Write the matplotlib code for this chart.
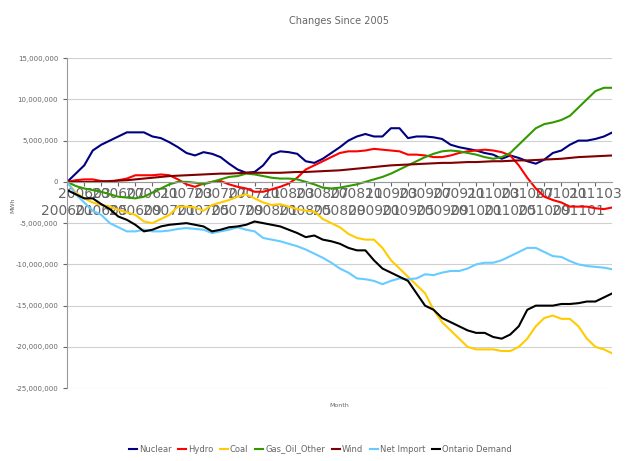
import matplotlib.pyplot as plt
from matplotlib.ticker import FuncFormatter

months = [f"{y}{m:02d}" for y in range(2006, 2012) for m in range(1, 13)][:65]

nuclear = [0, 1, 2, 3.8, 4.5, 5, 5.5, 6, 6, 6, 5.5, 5.3, 4.8, 4.2, 3.5, 3.2, 3.6, 3.4, 3, 2.2,
           1.5, 1.1, 1.2, 2, 3.3, 3.7, 3.6, 3.4, 2.5, 2.3, 2.8, 3.5, 4.2, 5, 5.5, 5.8, 5.5, 5.5,
           6.5, 6.5, 5.3, 5.5, 5.5, 5.4, 5.2, 4.5, 4.2, 4, 3.8, 3.5, 3.3, 2.8, 3.2, 2.9, 2.5, 2.2,
           2.7, 3.5, 3.8, 4.5, 5, 5, 5.2, 5.5, 6]
hydro = [0, 0.2, 0.3, 0.3, 0.1, 0, 0.2, 0.4, 0.8, 0.8, 0.8, 0.9, 0.8, 0.3, -0.3, -0.6, -0.2, 0,
         0.1, -0.3, -0.6, -0.8, -1.2, -1.2, -0.9, -0.6, -0.2, 0.5, 1.5, 2, 2.5, 3, 3.5, 3.7, 3.7,
         3.8, 4, 3.9, 3.8, 3.7, 3.3, 3.3, 3.2, 3, 3, 3.2, 3.5, 3.7, 3.8, 3.9, 3.8, 3.6, 3.2, 2,
         0.5, -0.8, -1.8, -2.2, -2.5, -3, -3, -3, -3.2, -3.3, -3.1]
coal = [0, -1.3, -2, -2.5, -2.8, -3, -3.4, -3.7, -4, -4.8, -5, -4.5, -4, -3, -3, -3.1, -3.5, -2.8,
        -2.5, -2.2, -1.8, -1.5, -2, -2.5, -2.8, -2.7, -3, -3.3, -3.5, -3.6, -4.5, -5, -5.5, -6.3,
        -6.8, -7, -7, -8, -9.5, -10.5, -11.5, -12.5, -13.5, -15.5, -17, -18, -19, -20, -20.3,
        -20.3, -20.3, -20.5, -20.5, -20, -19, -17.5, -16.5, -16.2, -16.6, -16.6, -17.5, -19, -20,
        -20.3, -20.8]
gas = [0, -0.5, -0.8, -1, -1.2, -1.5, -1.8, -1.9, -2, -1.8, -1.3, -0.8, -0.3, 0, 0, -0.1, -0.3,
       0, 0.3, 0.6, 0.7, 1, 0.9, 0.7, 0.5, 0.4, 0.4, 0.3, 0, -0.3, -0.7, -0.8, -0.7, -0.5, -0.3,
       0, 0.3, 0.6, 1, 1.5, 2, 2.5, 3, 3.4, 3.7, 3.8, 3.7, 3.5, 3.3, 3, 2.8, 3, 3.5, 4.5, 5.5,
       6.5, 7, 7.2, 7.5, 8, 9, 10, 11, 11.4, 11.4]
wind = [0, 0, 0, 0, 0.05, 0.1, 0.15, 0.2, 0.3, 0.4, 0.5, 0.6, 0.7, 0.75, 0.8, 0.85, 0.9, 0.95, 1,
        1, 1.05, 1.1, 1.1, 1.1, 1.1, 1.1, 1.15, 1.2, 1.2, 1.25, 1.3, 1.35, 1.4, 1.5, 1.6, 1.7, 1.8,
        1.9, 2, 2.05, 2.1, 2.15, 2.2, 2.25, 2.3, 2.3, 2.35, 2.4, 2.4, 2.45, 2.5, 2.5, 2.55, 2.6,
        2.6, 2.65, 2.7, 2.75, 2.8, 2.9, 3, 3.05, 3.1, 3.15, 3.2]
net_import = [0, -1.5, -2.5, -3.5, -4, -5, -5.5, -6, -6, -5.8, -6, -6, -5.9, -5.7, -5.6, -5.7,
              -5.8, -6.2, -6, -5.8, -5.5, -5.8, -6, -6.8, -7, -7.2, -7.5, -7.8, -8.2, -8.7, -9.2,
              -9.8, -10.5, -11, -11.7, -11.8, -12, -12.4, -12, -11.7, -11.8, -11.7, -11.2, -11.3,
              -11, -10.8, -10.8, -10.5, -10, -9.8, -9.8, -9.5, -9, -8.5, -8, -8, -8.5, -9, -9.1,
              -9.6, -10, -10.2, -10.3, -10.4, -10.6]
demand = [-1, -1.5, -2, -2, -2.7, -3.3, -4.2, -4.6, -5.2, -6, -5.8, -5.4, -5.2, -5.1, -5, -5.2,
          -5.4, -6, -5.8, -5.5, -5.4, -5.2, -4.8, -5, -5.2, -5.4, -5.8, -6.2, -6.7, -6.5, -7, -7.2,
          -7.5, -8, -8.3, -8.3, -9.5, -10.5, -11, -11.5, -12, -13.5, -15, -15.5, -16.5, -17, -17.5,
          -18, -18.3, -18.3, -18.8, -19, -18.5, -17.5, -15.5, -15, -15, -15, -14.8, -14.8, -14.7,
          -14.5, -14.5, -14, -13.5]

series = [("Nuclear", nuclear, "#000080"), ("Hydro", hydro, "#ff0000"), ("Coal", coal, "#ffcc00"),
          ("Gas_Oil_Other", gas, "#339900"), ("Wind", wind, "#800000"),
          ("Net Import", net_import, "#66ccff"), ("Ontario Demand", demand, "#000000")]

fig = plt.figure(figsize=(6.4, 4.61), dpi=100)
ax = fig.add_axes([0.105, 0.158, 0.852, 0.716])
for name, vals, col in series:
    ax.plot(range(len(vals)), [v * 1e6 for v in vals], color=col, lw=1.5, label=name)

ax.set_ylim(-25e6, 15e6)
ax.set_xlim(0, 64)
ax.set_yticks(range(-25000000, 15000001, 5000000))
ax.yaxis.set_major_formatter(FuncFormatter(lambda v, p: f"{int(v):,}"))
ax.grid(axis="y", color="#d0d0d0", lw=0.8)
ax.set_axisbelow(True)
ticks = list(range(0, 64, 2))
ax.set_xticks(ticks)
ax.set_xticklabels([("\n" if i % 2 == 0 else "") + months[t] for i, t in enumerate(ticks)],
                   fontsize=4.5, linespacing=1.6)
ax.spines["bottom"].set_position(("data", 0))
for s in ["top", "right"]:
    ax.spines[s].set_visible(False)
for s in ["left", "bottom"]:
    ax.spines[s].set_color("#999999")
ax.tick_params(colors="#666666", length=3)
ax.tick_params(axis="y", labelsize=5)
ax.tick_params(axis="x", pad=1)
fig.text(0.53, 0.955, "Changes Since 2005", fontsize=7, color="#666666", ha="center", va="center")
fig.text(0.016, 0.555, "MWh", fontsize=4.5, color="#666666", rotation=90, va="center")
fig.text(0.53, 0.118, "Month", fontsize=4.5, color="#666666", ha="center")
fig.legend(loc="lower center", bbox_to_anchor=(0.5, 0.0), ncol=7, fontsize=6, frameon=False,
           handlelength=1, handletextpad=0.2, columnspacing=0.8, labelcolor="#666666")
fig.savefig("out.png")
